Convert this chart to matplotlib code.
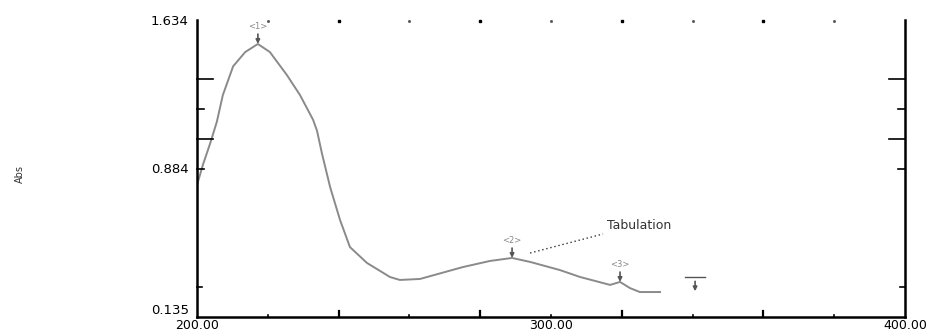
import matplotlib
matplotlib.use("Agg")
import matplotlib.pyplot as plt

# spectrum (wavelength nm, absorbance)
wavelength = [200.0, 201.7, 203.7, 205.6, 207.3, 210.2, 213.6, 217.2, 220.6, 225.4,
              229.1, 232.8, 233.9, 235.3, 237.6, 240.4, 243.2, 248.0, 254.5, 257.3,
              263.0, 275.1, 282.8, 289.0, 294.1, 302.5, 308.2, 316.7, 319.5, 322.3,
              325.1, 330.8]
absorbance = [0.801, 0.905, 1.010, 1.120, 1.255, 1.400, 1.472, 1.513, 1.472, 1.356,
              1.255, 1.130, 1.075, 0.960, 0.791, 0.625, 0.488, 0.408, 0.337, 0.322,
              0.327, 0.387, 0.418, 0.433, 0.413, 0.372, 0.337, 0.297, 0.312, 0.281,
              0.261, 0.261]

# peak picks
peak_x = [217.2, 289.0, 319.5, 340.7]
peak_y = [1.513, 0.433, 0.312, 0.265]
peak_labels = ["<1>", "<2>", "<3>", ""]

y_min, y_max = 0.135, 1.634
y_mid = (y_min + y_max) / 2
x_labels = ["200.00", "300.00", "400.00"]
y_labels = ["0.135", "0.884", "1.634"]

fig = plt.figure(figsize=(9.35, 3.34), dpi=100)
ax = fig.add_axes([197 / 935, 17 / 334, 708 / 935, 297 / 334])

ax.plot(wavelength, absorbance, color="#8a8a8a", lw=1.4)

ax.set_xlim(200, 400)
ax.set_ylim(y_min, y_max)

for s in ["left", "right", "bottom"]:
    ax.spines[s].set_linewidth(1.8)
    ax.spines[s].set_color("black")
ax.spines["top"].set_visible(False)

# x ticks
ax.set_xticks([200, 300, 400])
ax.set_xticklabels(x_labels, fontsize=9)
ax.tick_params(axis="x", which="both", direction="in", top=False, bottom=True,
               length=0, pad=1.5)
for xv in [240, 280, 320, 360]:
    ax.plot([xv, xv], [y_min, y_min + 0.03], color="black", lw=1.6, clip_on=False)
    ax.plot([xv], [y_max - 0.005], marker="s", ms=1.8, color="black", clip_on=False)
for xv in [220, 260, 300, 340, 380]:
    ax.plot([xv, xv], [y_min, y_min + 0.012], color="black", lw=1.2, clip_on=False)
    ax.plot([xv], [y_max - 0.005], marker="s", ms=1.0, color="#555555", clip_on=False)

# y ticks
step = (y_max - y_min) / 10
ax.set_yticks([y_min, y_mid, y_max])
ax.set_yticklabels(y_labels, fontsize=9.5)
ax.tick_params(axis="y", which="major", direction="in", left=True, right=True,
               length=0, pad=6)
ax.get_yticklabels()[0].set_va("bottom")
for k, ln in [(1, 1.5), (5, 2), (6, 4.5), (7, 2), (8, 4.5)]:
    yv = y_min + k * step
    ax.plot([200, 200 + ln], [yv, yv], color="black", lw=1.2, clip_on=False)
    ax.plot([400 - ln, 400], [yv, yv], color="black", lw=1.2, clip_on=False)

# peak picks
for px, py, lab in zip(peak_x, peak_y, peak_labels):
    ax.annotate("", xy=(px, py), xytext=(px, py + 0.05),
                arrowprops=dict(arrowstyle="-|>", color="#555555", lw=1.2,
                                mutation_scale=6, shrinkA=0, shrinkB=0))
    if lab:
        ax.text(px, py + 0.09, lab, fontsize=6, color="#888888",
                ha="center", va="center")
ax.plot([337.9, 343.5], [0.337, 0.337], color="#555555", lw=1.0)

ax.plot([294.1, 314.7], [0.458, 0.554], color="#333333", lw=1.0, ls=(0, (1, 2)))
ax.text(315.8, 0.599, "Tabulation", fontsize=9, color="#333333",
        ha="left", va="center")

fig.text(20 / 935, 1 - 174 / 334, "Abs", rotation=90, fontsize=7,
         ha="center", va="center", color="#333333")

fig.savefig("out.png", dpi=100)
